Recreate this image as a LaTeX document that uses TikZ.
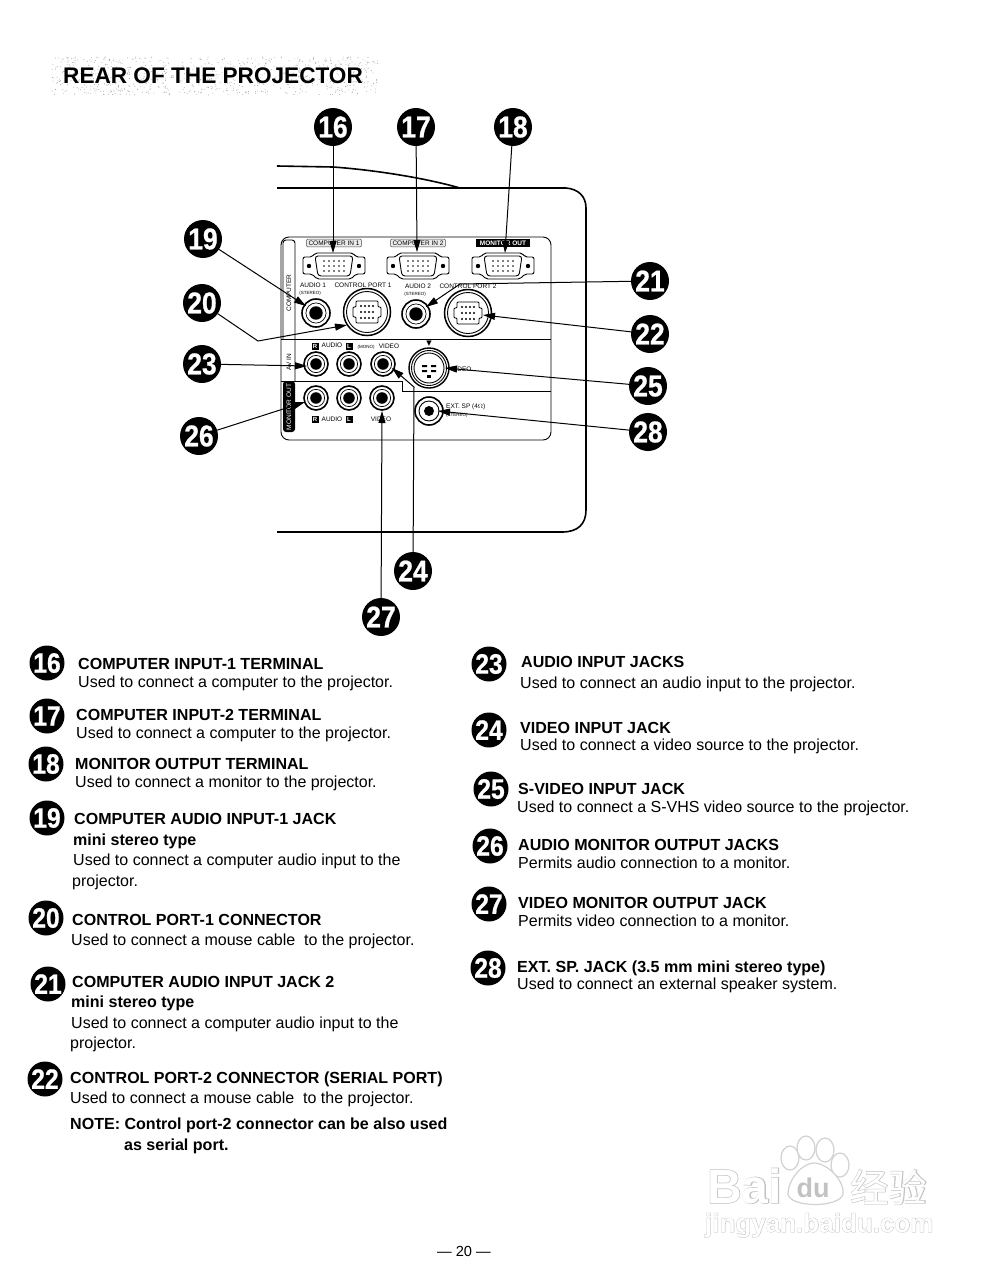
\documentclass[tikz,border=0pt]{standalone}
\usepackage{fontspec}
\setmainfont{Liberation Sans}
\newfontfamily\cjkf{Noto Sans CJK SC}
\newfontfamily\bdgf[FakeBold=0.8,FakeStretch=0.88]{Liberation Sans Bold}
\newfontfamily\wmf[FakeBold=2.5]{Liberation Sans Bold}
\newfontfamily\wmcjk[FakeBold=2.5]{Noto Sans CJK SC}
\usetikzlibrary{arrows.meta}
\tikzset{
  px/.style={x=1pt,y=-1pt},
  badge/.style={circle,fill=black,inner sep=0pt,minimum size=38pt,text=white,font=\fontsize{30}{30}\bdgf},
  lbadge/.style={circle,fill=black,inner sep=0pt,minimum size=35pt,text=white,font=\fontsize{28}{28}\bdgf},
  lead/.style={draw=black,line width=1pt,-{Triangle[length=12pt,width=7pt]}},
  head/.style={anchor=base west,inner sep=0pt,font=\fontsize{16.05}{17}\selectfont\bfseries},
  body/.style={anchor=base west,inner sep=0pt,font=\fontsize{16}{17}\selectfont},
  tiny/.style={anchor=center,inner sep=0pt,font=\fontsize{6.5}{7}\selectfont},
  micro/.style={anchor=center,inner sep=0pt,font=\fontsize{4.5}{5}\selectfont},
  edge/.style={draw=black,line width=1.6pt},
  thin/.style={draw=black,line width=.9pt},
  jackouter/.style={circle,draw=black,line width=1.6pt,inner sep=0pt,fill=white},
  wmg/.style={text=black!24,inner sep=0pt},
  wmw/.style={text=white,inner sep=0pt},
  wmo/.style={draw=black!18,line width=1.2pt,fill=white},
}
\newcommand{\jack}[4]{% name x y r
  \node[jackouter,minimum size=#4*2pt] (#1) at (#2,#3) {};
  \draw[line width=.7pt] (#2,#3) circle[radius=#4*0.72];
  \fill (#2,#3) circle[radius=#4*0.48];
}
\newcommand{\vga}[2]{% x y
  \begin{scope}[shift={(#1,#2)}]
  \draw[thin,rounded corners=2pt] (-31,-9)--(-22,-9)--(-19,-13)--(19,-13)--(22,-9)--(31,-9)--(31,8)--(22,8)--(17,13)--(-17,13)--(-22,8)--(-31,8)--cycle;
  \draw[thin,rounded corners=3pt] (-19,-10)--(19,-10)--(16,10)--(-16,10)--cycle;
  \fill (-25,0) circle[radius=2.2] (25,0) circle[radius=2.2];
  \foreach \xx in {-10,-5,0,5,10} {\fill (\xx,-5) circle[radius=.8] (\xx,0) circle[radius=.8] (\xx,5) circle[radius=.8];}
  \end{scope}
}
\newcommand{\din}[2]{% x y
  \begin{scope}[shift={(#1,#2)}]
  \draw[line width=1.5pt] (0,0) circle[radius=23.5];
  \draw[thin] (0,0) circle[radius=20.5];
  \draw[thin,rounded corners=1pt] (-11,-11)--(11,-11)--(11,-5)--(14,-5)--(14,5)--(11,5)--(11,11)--(-11,11)--(-11,5)--(-14,5)--(-14,-5)--(-11,-5)--cycle;
  \foreach \xx in {-6,-2,2,6} \foreach \yy in {-6,0,6} {\fill (\xx,\yy) circle[radius=1.1];}
  \end{scope}
}
\begin{document}
\begin{tikzpicture}[px]
\useasboundingbox (0,0) rectangle (990,1280);
\fill[white] (0,0) rectangle (990,1280);
% title halftone
\pgfmathsetseed{4242}
\foreach \i in {1,...,800} {
  \pgfmathsetmacro{\dx}{52+rnd*326}
  \pgfmathsetmacro{\dy}{57+rnd*38}
  \fill[black!40] (\dx,\dy) circle[radius=.45];
}
\node[anchor=base west,inner sep=0pt,font=\fontsize{22.6}{24}\selectfont\bfseries] (title) at (63,83) {REAR OF THE PROJECTOR};
% projector body
\draw[edge] (277,166) -- (333,167) .. controls (375,170) and (425,178) .. (460,188);
\draw[edge] (277,188) -- (566,188) .. controls (578,189) and (586,196) .. (586,208) -- (586,510) .. controls (586,524) and (578,532) .. (562,532) -- (277,532);
% panel
\draw[thin,rounded corners=8pt] (281,237) rectangle (551,440);
\draw[thin,rounded corners=3pt] (283,339) -- (283,240) -- (295,240) -- (295,381);
\draw[thin] (281,339) -- (551,339);
\draw[thin] (281,381) -- (402,381) -- (402,391) -- (551,391);
\fill[black,rounded corners=3pt] (283,381) rectangle (295,432);
\node[tiny,rotate=90] (lcomp) at (289,293) {COMPUTER};
\node[tiny,rotate=90] (lav) at (289,362) {AV IN};
\node[tiny,rotate=90,text=white] (lmon) at (289,407) {MONITOR OUT};
% terminal labels
\node[tiny,fill=black!8,draw=black!70,line width=.5pt,inner xsep=2pt,inner ysep=1.5pt,rounded corners=1pt] (ci1) at (334,243) {COMPUTER IN 1};
\node[tiny,fill=black!8,draw=black!70,line width=.5pt,inner xsep=2pt,inner ysep=1.5pt,rounded corners=1pt] (ci2) at (418,243) {COMPUTER IN 2};
\node[tiny,fill=black,text=white,inner xsep=4pt,inner ysep=2pt,font=\fontsize{6.5}{7}\selectfont\bfseries] (mo) at (503,243) {MONITOR OUT};
\vga{334}{266}\vga{418}{266}\vga{503}{266}
\node[tiny] (a1) at (313,285) {AUDIO 1};
\node[micro] (s1) at (310,293) {(STEREO)};
\node[tiny] (cp1) at (363,285) {CONTROL PORT 1};
\node[tiny] (a2) at (418,286) {AUDIO 2};
\node[micro] (s2) at (415,294) {(STEREO)};
\node[tiny] (cp2) at (468,286) {CONTROL PORT 2};
% connectors
\jack{j19}{316}{313}{14}
\jack{j21}{416}{314}{14}
\din{367}{312}\din{468}{313}
\coordinate (j20) at (347,325);
\coordinate (j22) at (483,315);
\node[tiny,fill=black,text=white,inner sep=1pt,minimum size=7pt,font=\fontsize{6}{6}\selectfont\bfseries] (rr1) at (315,346) {R};
\node[tiny] (au1) at (332,345) {AUDIO};
\node[tiny,fill=black,text=white,inner sep=1pt,minimum size=7pt,font=\fontsize{6}{6}\selectfont\bfseries] (ll1) at (349,346) {L};
\node[micro] (mono) at (366,347) {(MONO)};
\node[tiny] (vi1) at (389,346) {VIDEO};
\node[inner sep=0pt,font=\fontsize{7}{7}\selectfont] (tri) at (429,344) {\fontspec{DejaVu Sans}▼};
\jack{j23}{316}{364}{12}
\jack{j23b}{349}{364}{12}
\jack{j24}{383}{364}{12}
\jack{j26}{316}{398}{12}
\jack{j26b}{349}{398}{12}
\jack{j27}{382}{398}{12}
% S-video
\begin{scope}[shift={(429,368)}]
\draw[line width=1.4pt] (0,0) circle[radius=20];
\draw[thin] (0,0) circle[radius=17.5] (0,0) circle[radius=15];
\fill (-7,-3) rectangle (-2,-1) (2,-3) rectangle (7,-1) (-7,2) rectangle (-2,4) (2,2) rectangle (7,4);
\fill (-2,7) rectangle (2,10);
\end{scope}
\coordinate (j25) at (445,368);
\node[tiny,anchor=west] (sv) at (451,369) {VIDEO};
% ext sp
\node[jackouter,minimum size=28pt] (j28o) at (429,411) {};
\draw[thin] (429,411) circle[radius=10];
\fill (429,411) circle[radius=5];
\coordinate (j28) at (438,411);
\node[tiny,anchor=west] (ext) at (446,407) {EXT. SP (4$\Omega$)};
\node[micro,anchor=west] (st) at (446,415) {(STEREO)};
\node[tiny,fill=black,text=white,inner sep=1pt,minimum size=7pt,font=\fontsize{6}{6}\selectfont\bfseries] (rr2) at (315,419) {R};
\node[tiny] (au2) at (332,419) {AUDIO};
\node[tiny,fill=black,text=white,inner sep=1pt,minimum size=7pt,font=\fontsize{6}{6}\selectfont\bfseries] (ll2) at (349,419) {L};
\node[tiny] (vi2) at (381,419) {VIDEO};
% badges
\node[badge] (b16) at (333,127) {16};
\node[badge] (b17) at (416,127) {17};
\node[badge] (b18) at (513,127) {18};
\node[badge] (b19) at (203,239) {19};
\node[badge] (b20) at (202,303) {20};
\node[badge] (b21) at (650,281) {21};
\node[badge] (b22) at (650,334) {22};
\node[badge] (b23) at (202,364) {23};
\node[badge] (b24) at (413,571) {24};
\node[badge] (b25) at (648,386) {25};
\node[badge] (b26) at (199,436) {26};
\node[badge] (b27) at (381,617) {27};
\node[badge] (b28) at (648,432) {28};
\coordinate (t16) at (333,253);
\coordinate (t17) at (417,252);
\coordinate (t18) at (505,253);
\coordinate (t19) at (306,306);
\coordinate (t21) at (426,307);
\coordinate (m21) at (460,284);
\coordinate (m20) at (258,341);
\coordinate (t23) at (307,366);
\coordinate (m24) at (414,387);
\coordinate (t24) at (392,368);
\coordinate (t26) at (305,402);
\coordinate (t27) at (382,411);
\draw[lead] (b16) -- (t16);
\draw[lead] (b17) -- (t17);
\draw[lead] (b18) -- (t18);
\draw[lead] (b19) -- (t19);
\draw[lead] (b20) -- (m20) -- (j20);
\draw[lead] (b21) -- (m21) -- (t21);
\draw[lead] (b22) -- (j22);
\draw[lead] (b23) -- (t23);
\draw[lead] (b24) -- (m24) -- (t24);
\draw[lead] (b25) -- (j25);
\draw[lead] (b26) -- (t26);
\draw[lead] (b27) -- (t27);
\draw[lead] (b28) -- (j28);
% left legend
\node[lbadge] (l16) at (47,663) {16};
\node[head] (h16) at (78,669) {COMPUTER INPUT-1 TERMINAL};
\node[body] (d16) at (78,687) {Used to connect a computer to the projector.};
\node[lbadge] (l17) at (47,716) {17};
\node[head] (h17) at (76,720) {COMPUTER INPUT-2 TERMINAL};
\node[body] (d17) at (76,738) {Used to connect a computer to the projector.};
\node[lbadge] (l18) at (46,764) {18};
\node[head] (h18) at (75,769) {MONITOR OUTPUT TERMINAL};
\node[body] (d18) at (75,787) {Used to connect a monitor to the projector.};
\node[lbadge] (l19) at (47,818) {19};
\node[head] (h19) at (74,824) {COMPUTER AUDIO INPUT-1 JACK};
\node[head] (h19b) at (73,845) {mini stereo type};
\node[body] (d19) at (73,865) {Used to connect a computer audio input to the};
\node[body] (d19b) at (72,886) {projector.};
\node[lbadge] (l20) at (46,918) {20};
\node[head] (h20) at (72,925) {CONTROL PORT-1 CONNECTOR};
\node[body] (d20) at (71,945) {Used to connect a mouse cable\ \ to the projector.};
\node[lbadge] (l21) at (48,984) {21};
\node[head] (h21) at (72,987) {COMPUTER AUDIO INPUT JACK 2};
\node[head] (h21b) at (71,1007) {mini stereo type};
\node[body] (d21) at (71,1028) {Used to connect a computer audio input to the};
\node[body] (d21b) at (70,1048) {projector.};
\node[lbadge] (l22) at (45,1079) {22};
\node[head] (h22) at (70,1083) {CONTROL PORT-2 CONNECTOR (SERIAL PORT)};
\node[body] (d22) at (70,1103) {Used to connect a mouse cable\ \ to the projector.};
\node[head] (n22) at (70,1129) {NOTE: Control port-2 connector can be also used};
\node[head] (n22b) at (124,1150) {as serial port.};
% right legend
\node[lbadge] (l23) at (489,664) {23};
\node[head] (h23) at (521,667) {AUDIO INPUT JACKS};
\node[body] (d23) at (520,688) {Used to connect an audio input to the projector.};
\node[lbadge] (l24) at (489,730) {24};
\node[head] (h24) at (520,733) {VIDEO INPUT JACK};
\node[body] (d24) at (520,750) {Used to connect a video source to the projector.};
\node[lbadge] (l25) at (491,789) {25};
\node[head] (h25) at (518,794) {S-VIDEO INPUT JACK};
\node[body] (d25) at (517,812) {Used to connect a S-VHS video source to the projector.};
\node[lbadge] (l26) at (490,846) {26};
\node[head] (h26) at (518,850) {AUDIO MONITOR OUTPUT JACKS};
\node[body] (d26) at (518,868) {Permits audio connection to a monitor.};
\node[lbadge] (l27) at (489,904) {27};
\node[head] (h27) at (518,908) {VIDEO MONITOR OUTPUT JACK};
\node[body] (d27) at (518,926) {Permits video connection to a monitor.};
\node[lbadge] (l28) at (488,968) {28};
\node[head] (h28) at (517,972) {EXT. SP. JACK (3.5 mm mini stereo type)};
\node[body] (d28) at (517,989) {Used to connect an external speaker system.};
\node[body,font=\fontsize{14.6}{16}\selectfont] (page) at (437,1256) {--- 20 ---};
% watermark
\begin{scope}[shift={(680,1120)}]
\draw[wmo] (110,38) ellipse[x radius=9,y radius=12];
\draw[wmo] (126,28) ellipse[x radius=9,y radius=12];
\draw[wmo] (145,30) ellipse[x radius=9,y radius=12];
\draw[wmo] (160,45) ellipse[x radius=9,y radius=12];
\draw[wmo] (108,74) .. controls (108,60) and (122,43) .. (134,43) .. controls (148,43) and (165,62) .. (163,74) .. controls (160,88) and (110,88) .. (108,74) -- cycle;
\node[wmg,anchor=base west,font=\fontsize{48}{48}\wmf] (wb) at (27,83) {Bai};
\node[wmw,anchor=base west,font=\fontsize{48}{48}\selectfont\bfseries] (wbw) at (27,83) {Bai};
\node[wmg,anchor=base,font=\fontsize{27}{27}\selectfont\bfseries] (wd) at (133,77) {du};
\node[wmg,anchor=base west,font=\fontsize{38.5}{38.5}\wmcjk] (wc) at (170,82) {经验};
\node[wmw,anchor=base west,font=\fontsize{38.5}{38.5}\cjkf] (wcw) at (170,82) {经验};
\node[wmg,anchor=base west,font=\fontsize{26}{26}\wmf] (wu) at (25,112) {jingyan.baidu.com};
\node[wmw,anchor=base west,font=\fontsize{26}{26}\selectfont\bfseries] (wuw) at (25,112) {jingyan.baidu.com};
\end{scope}
\end{tikzpicture}
\end{document}
